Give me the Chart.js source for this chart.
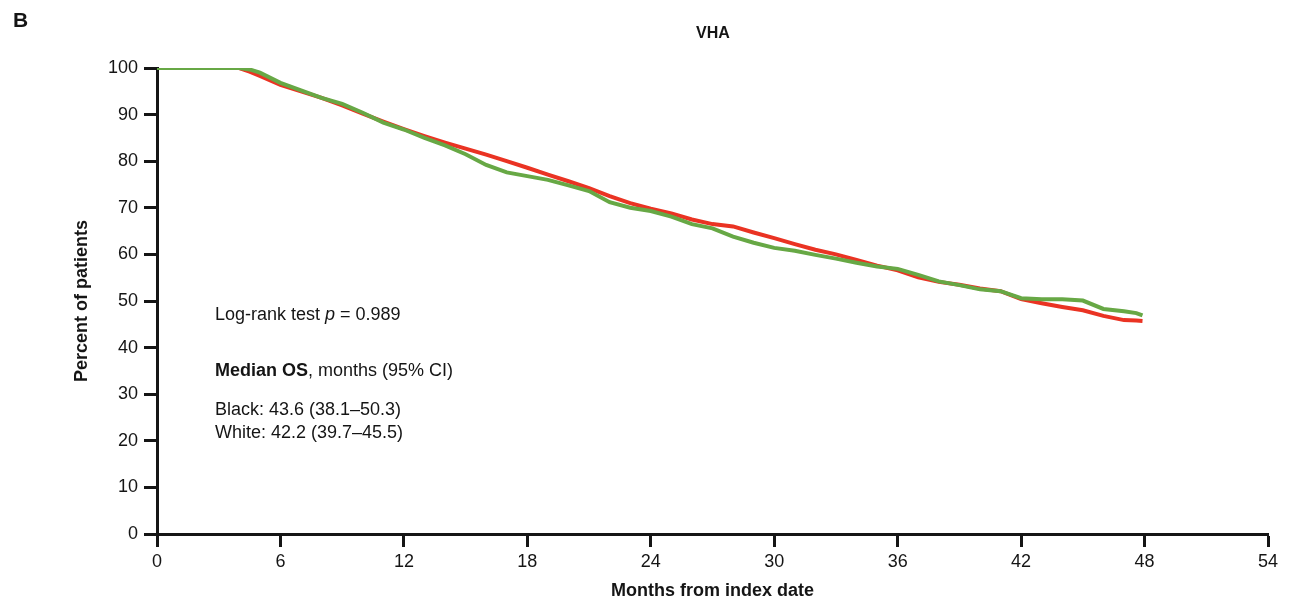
<!DOCTYPE html>
<html>
<head>
<meta charset="utf-8">
<script src="https://cdn.jsdelivr.net/npm/chart.js@4.4.0/dist/chart.umd.min.js"></script>
<style>
  html, body { margin: 0; padding: 0; background: #fff; }
  #wrap { width: 1292px; height: 606px; position: relative; }
</style>
</head>
<body>
<div id="wrap"><canvas id="km"></canvas></div>
<script>
// survival estimates (months, % alive)
const months = [0, 4, 4.5, 5, 6, 7, 8, 9, 10, 11, 12, 13, 14, 15, 16, 17, 18, 19, 20, 21, 22, 23, 24,
  25, 26, 27, 28, 29, 30, 31, 32, 33, 34, 35, 36, 37, 38, 39, 40, 41, 42, 43, 44, 45, 46, 47, 47.6, 47.9];
const redPct = [100, 100, 99.2, 98.3, 96.4, 95.0, 93.6, 92.0, 90.2, 88.5, 86.9, 85.4, 84.0, 82.7, 81.4, 80.0,
  78.6, 77.1, 75.7, 74.2, 72.5, 71.0, 69.8, 68.8, 67.5, 66.5, 66.0, 64.7, 63.5, 62.2, 61.0, 60.0, 58.8,
  57.6, 56.6, 55.1, 54.1, 53.5, 52.7, 52.1, 50.4, 49.5, 48.7, 48.0, 46.8, 45.9, 45.8, 45.7];
const greenPct = [100, 100, 99.7, 99.0, 96.8, 95.2, 93.6, 92.3, 90.4, 88.3, 86.8, 85.0, 83.4, 81.5, 79.2, 77.6,
  76.8, 76.0, 74.8, 73.6, 71.2, 70.0, 69.3, 68.1, 66.5, 65.6, 63.8, 62.5, 61.4, 60.8, 59.9, 59.1, 58.2,
  57.4, 56.9, 55.6, 54.2, 53.4, 52.5, 52.1, 50.6, 50.4, 50.4, 50.1, 48.3, 47.8, 47.4, 46.9];
const xTicks = [0, 6, 12, 18, 24, 30, 36, 42, 48, 54];
const yTicks = [0, 10, 20, 30, 40, 50, 60, 70, 80, 90, 100];

const FONT = 'Liberation Sans, Arial, Helvetica, sans-serif';
const INK = '#151515';

function pts(ys) {
  return months.map((m, i) => ({ x: m, y: ys[i] }));
}

const notes = {
  id: 'notes',
  afterDraw(chart) {
    const c = chart.ctx;
    c.save();
    c.fillStyle = INK;
    c.textBaseline = 'alphabetic';
    c.textAlign = 'left';

    // panel letter + title
    c.font = 'bold 21px ' + FONT;
    c.fillText('B', 13, 27);
    c.font = 'bold 16px ' + FONT;
    c.textAlign = 'center';
    c.fillText('VHA', 713, 38);
    c.textAlign = 'left';

    let x = 215;
    c.font = '18px ' + FONT;
    c.fillText('Log-rank test ', x, 320);
    x += c.measureText('Log-rank test ').width;
    c.font = 'italic 18px ' + FONT;
    c.fillText('p', x, 320);
    x += c.measureText('p').width;
    c.font = '18px ' + FONT;
    c.fillText(' = 0.989', x, 320);

    x = 215;
    c.font = 'bold 18px ' + FONT;
    c.fillText('Median OS', x, 376);
    x += c.measureText('Median OS').width;
    c.font = '18px ' + FONT;
    c.fillText(', months (95% CI)', x, 376);

    c.fillText('Black: 43.6 (38.1\u201350.3)', 215, 415);
    c.fillText('White: 42.2 (39.7\u201345.5)', 215, 438);
    c.restore();
  }
};

function axisCommon(ticksArr, pad) {
  return {
    type: 'linear',
    afterBuildTicks: s => { s.ticks = ticksArr.map(v => ({ value: v })); },
    grid: { drawOnChartArea: false, drawTicks: true, tickLength: 13, tickWidth: 3, tickColor: INK },
    border: { display: true, color: INK, width: 3 },
    ticks: { color: INK, font: { family: FONT, size: 18 }, padding: pad, autoSkip: false, maxRotation: 0 }
  };
}

const xAxis = Object.assign(axisCommon(xTicks, 4), {
  min: 0, max: 54,
  title: { display: true, text: 'Months from index date', color: INK, font: { family: FONT, size: 18, weight: 'bold' } },
  afterFit: s => { s.height = 72; }
});
const yAxis = Object.assign(axisCommon(yTicks, 6), {
  min: 0, max: 100,
  title: { display: true, text: 'Percent of patients', color: INK, font: { family: FONT, size: 18, weight: 'bold' } },
  afterFit: s => { s.width = 90; }
});

new Chart(document.getElementById('km'), {
  type: 'line',
  data: {
    datasets: [
      { label: 'Green', data: pts(greenPct), borderColor: '#67a845', borderWidth: 4, pointRadius: 0, tension: 0, fill: false },
      { label: 'Red', data: pts(redPct), borderColor: '#ea3323', borderWidth: 4, pointRadius: 0, tension: 0, fill: false }
    ]
  },
  options: {
    responsive: true,
    maintainAspectRatio: false,
    animation: false,
    layout: { padding: { left: 67, right: 24, top: 68, bottom: 0 } },
    plugins: { legend: { display: false }, tooltip: { enabled: false } },
    scales: { x: xAxis, y: yAxis }
  },
  plugins: [notes]
});
</script>
</body>
</html>
